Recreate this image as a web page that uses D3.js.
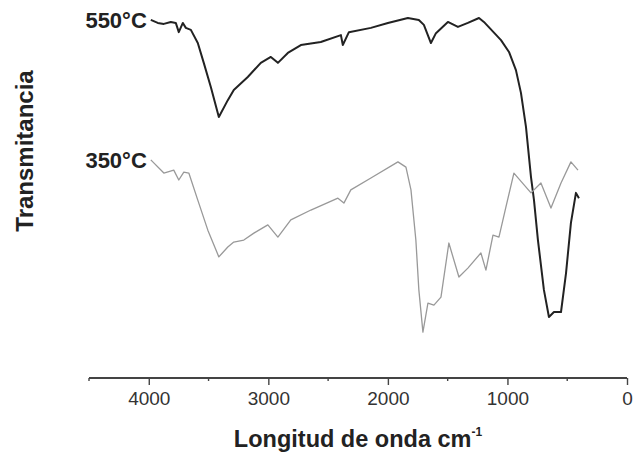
<!DOCTYPE html>
<html>
<head>
<meta charset="utf-8">
<script src="https://cdn.jsdelivr.net/npm/d3@7"></script>
<style>
    html, body { margin: 0; padding: 0; background: #fff; }
    #chart { width: 641px; height: 453px; }
    text { font-family: "Liberation Sans", Arial, sans-serif; }
</style>
</head>
<body>
<div id="chart"></div>
<script>
// 550°C spectrum (wavenumber cm-1, transmittance a.u.)
const wn550 = [3983, 3925, 3874, 3816, 3774, 3749, 3715, 3690, 3648, 3590, 3540, 3481, 3414, 3339, 3289,
    3172, 3063, 2979, 2920, 2837, 2728, 2561, 2393, 2377, 2326, 2142, 2000, 1833, 1741, 1699, 1640, 1598,
    1498, 1414, 1331, 1238, 1197, 1054, 987, 929, 887, 845, 803, 778, 745, 695, 653, 611, 552, 510, 469, 427, 402];
const t550 = [98.5, 97.6, 97.3, 97.9, 97.6, 94.8, 97.6, 96.1, 95.5, 91.5, 85.5, 78.2, 69.1, 74.2, 77.3,
    81.2, 85.5, 87.3, 85.5, 88.5, 90.9, 91.8, 93.9, 90.9, 94.8, 96.1, 97.6, 99.1, 98.5, 97.0, 91.5, 94.5,
    97.9, 96.4, 97.6, 99.1, 97.9, 92.4, 88.8, 83.3, 76.4, 66.1, 50.9, 43.9, 31.8, 16.7, 8.5, 10.0, 10.0, 21.8, 37.0, 46.1, 44.5];

// 350°C spectrum
const wn350 = [3983, 3874, 3791, 3749, 3707, 3665, 3590, 3506, 3414, 3339, 3289, 3205, 3121, 3004, 2920,
    2812, 2644, 2418, 2368, 2310, 2142, 1916, 1849, 1807, 1766, 1741, 1707, 1665, 1615, 1556, 1490, 1406,
    1331, 1222, 1180, 1121, 1071, 1013, 946, 803, 720, 636, 552, 469, 410];
const t350 = [56.1, 52.1, 53.0, 50.0, 52.4, 52.1, 43.9, 34.8, 26.7, 29.7, 31.2, 31.8, 33.9, 36.4, 32.7,
    37.9, 40.9, 44.5, 43.0, 47.0, 50.6, 55.5, 53.9, 47.0, 31.8, 16.7, 3.9, 12.7, 12.1, 14.5, 30.9, 20.6,
    23.3, 27.9, 22.7, 33.3, 32.7, 41.8, 52.1, 46.1, 49.1, 41.5, 49.1, 55.5, 53.0];

const seriesLabels = ['550°C', '350°C'];
const majorTicks = [4000, 3000, 2000, 1000, 0];
const minorTicks = [4500, 3500, 2500, 1500, 500];

class SpectrumChart {

    constructor(opts) {
        this.element = opts.element;
        this.series = opts.series;
        this.draw();
    }

    draw() {
        this.width = 641;
        this.height = 453;

        const svg = d3.select(this.element).append('svg')
            .attr('width', this.width)
            .attr('height', this.height);
        this.svg = svg;

        this.xScale = d3.scaleLinear()
            .domain([4500, 0])
            .range([89, 627]);

        this.yScale = d3.scaleLinear()
            .domain([0, 100])
            .range([345, 15]);

        this.axisY = 378;

        this.addAxis();
        this.addLines();
        this.addLabels();
    }

    addAxis() {
        const major = d3.axisBottom(this.xScale)
            .tickValues(majorTicks)
            .tickSize(7)
            .tickSizeOuter(0)
            .tickPadding(7)
            .tickFormat(d3.format('d'));

        const g = this.svg.append('g')
            .attr('class', 'x axis')
            .attr('transform', `translate(0,${this.axisY})`)
            .call(major);

        g.select('.domain')
            .attr('stroke', '#444')
            .attr('stroke-width', 1.8)
            .attr('d', `M${this.xScale(4500)},0H${this.xScale(0)}`);
        g.selectAll('.tick line').attr('stroke', '#444').attr('stroke-width', 1.4);
        g.selectAll('.tick text')
            .attr('fill', '#333')
            .attr('font-size', 19)
            .attr('font-family', '"Liberation Sans", Arial, sans-serif');

        g.selectAll('.minor')
            .data(minorTicks)
            .enter()
            .append('line')
            .attr('class', 'minor')
            .attr('x1', d => this.xScale(d))
            .attr('x2', d => this.xScale(d))
            .attr('y1', 0)
            .attr('y2', 3)
            .attr('stroke', '#444')
            .attr('stroke-width', 1.4);

        // axis title
        const title = this.svg.append('text')
            .attr('x', (this.xScale(4500) + this.xScale(0)) / 2)
            .attr('y', 447)
            .attr('text-anchor', 'middle')
            .attr('font-size', 23.5)
            .attr('font-weight', 'bold')
            .attr('fill', '#222');
        title.append('tspan').text('Longitud de onda cm');
        title.append('tspan')
            .attr('dy', -11)
            .attr('font-size', 12)
            .text('-1');

        this.svg.append('text')
            .attr('transform', 'translate(33,151) rotate(-90)')
            .attr('text-anchor', 'middle')
            .attr('font-size', 24)
            .attr('font-weight', 'bold')
            .attr('fill', '#222')
            .text('Transmitancia');
    }

    addLines() {
        const line = d3.line()
            .x(d => this.xScale(d[0]))
            .y(d => this.yScale(d[1]))
            .curve(d3.curveLinear);

        this.svg.selectAll('.spectrum')
            .data(this.series)
            .enter()
            .append('path')
            .attr('class', 'spectrum')
            .attr('fill', 'none')
            .attr('stroke', d => d.color)
            .attr('stroke-width', d => d.width)
            .attr('stroke-linejoin', 'round')
            .attr('d', d => line(d3.zip(d.x, d.y)));
    }

    addLabels() {
        this.svg.selectAll('.series-label')
            .data(this.series)
            .enter()
            .append('text')
            .attr('class', 'series-label')
            .attr('x', d => this.xScale(d.x[0]) - 4)
            .attr('y', d => this.yScale(d.y[0]) + 8)
            .attr('text-anchor', 'end')
            .attr('font-size', 22)
            .attr('font-weight', 'bold')
            .attr('fill', '#222')
            .text(d => d.label);
    }
}

new SpectrumChart({
    element: document.getElementById('chart'),
    series: [
        { label: seriesLabels[0], x: wn550, y: t550, color: '#222', width: 2 },
        { label: seriesLabels[1], x: wn350, y: t350, color: '#999', width: 1.3 }
    ]
});
</script>
</body>
</html>
